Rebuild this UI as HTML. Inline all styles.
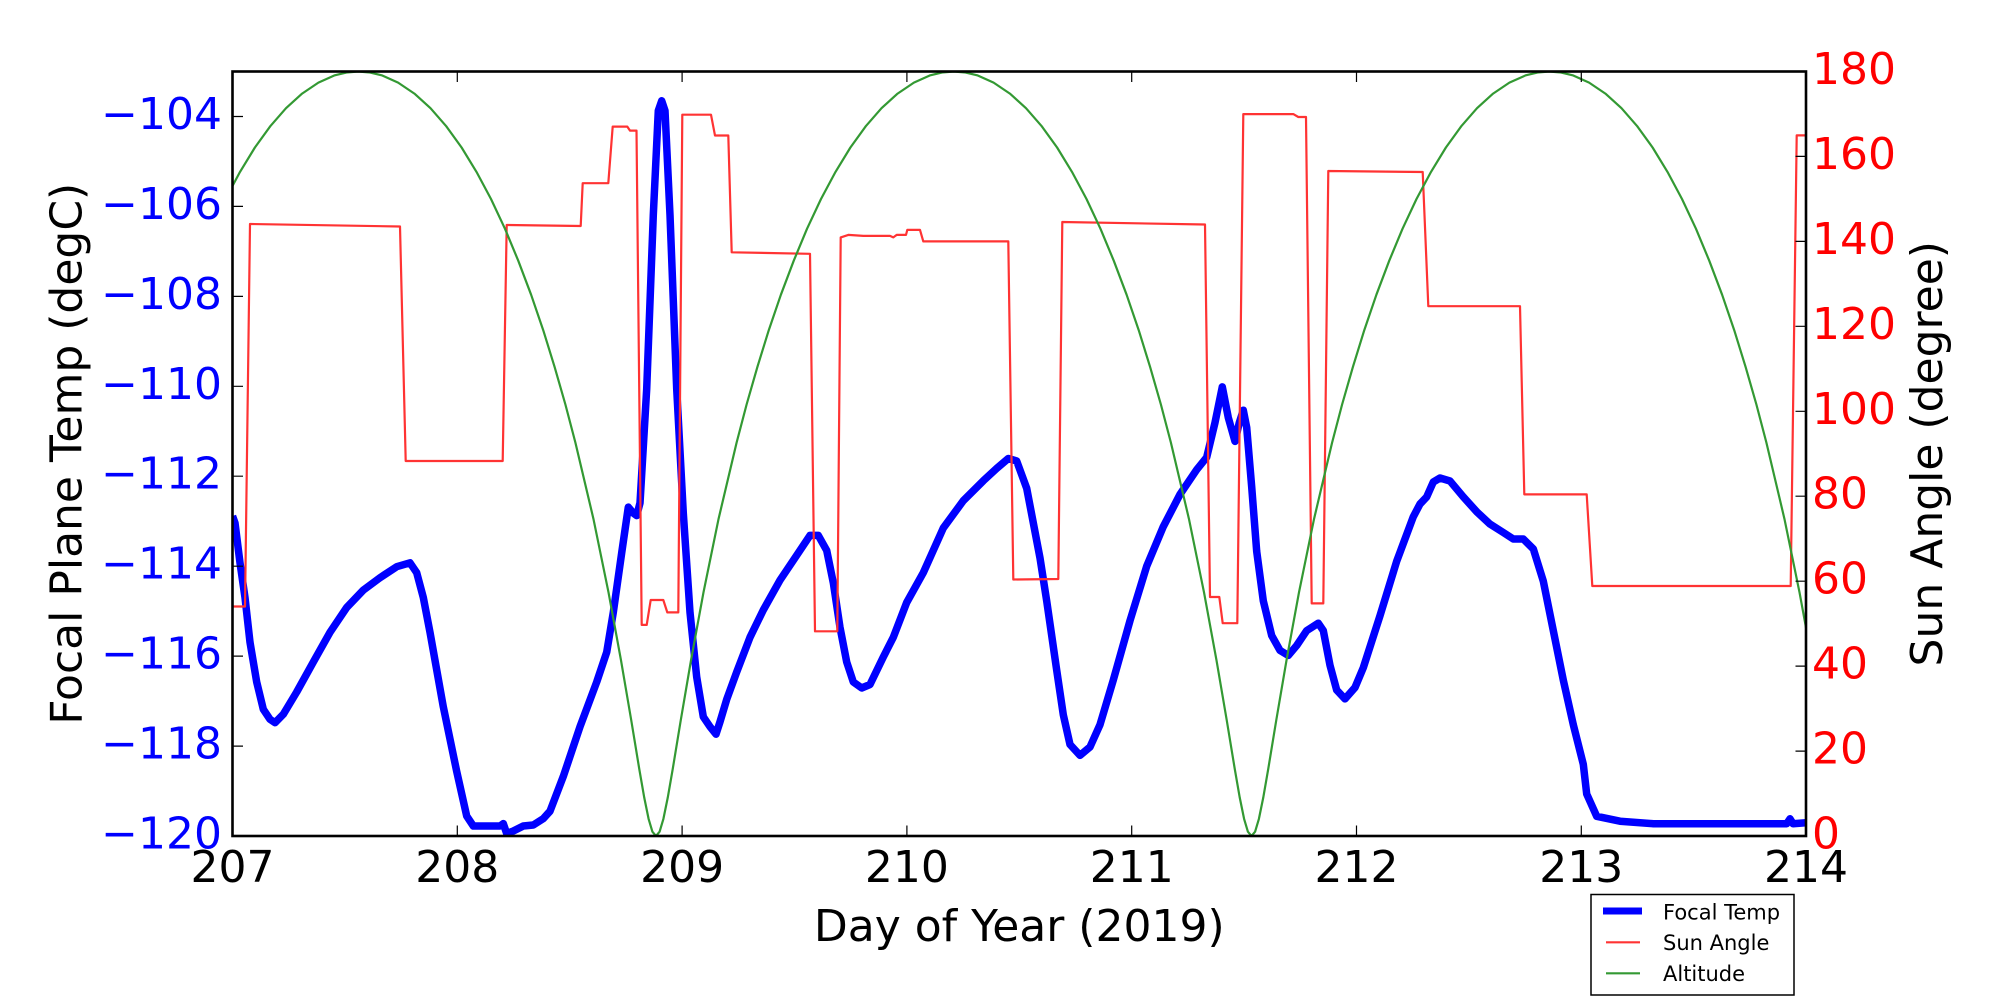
<!DOCTYPE html>
<html><head><meta charset="utf-8"><style>html,body{margin:0;padding:0;background:#fff;}svg{display:block}</style></head>
<body>
<svg width="2000" height="1000" viewBox="0 0 2000 1000" xmlns="http://www.w3.org/2000/svg" font-family="'DejaVu Sans','Liberation Sans',sans-serif">
<rect x="0" y="0" width="2000" height="1000" fill="#fff"/>
<defs><clipPath id="c"><rect x="232.5" y="71.5" width="1573.5" height="764.5"/></clipPath></defs>

<g clip-path="url(#c)" fill="none" stroke-linejoin="round">
<polyline stroke="#0000ff" stroke-width="7.5" points="232.5,516 235,523 240,562.8 245,597.5 250,642.3 256.7,682 263.3,709.3 270,719.3 275,722.7 283.3,714.3 296.7,692 313.3,662.1 330,632.3 346.7,607.5 363.3,590.1 380,577.7 396.7,566.7 410,562.8 416.7,572.7 423.3,597.5 430,632.3 443.3,706.8 456.7,771.4 466.7,816.1 473.3,826 500,826 503.3,823.6 506.7,833.5 513.3,831 523.3,826 533.3,825 543.3,818.6 550,811.2 563.3,776.4 580,726.7 596.7,682 606.7,652.2 613.3,612.4 621.7,552.8 628.3,507.1 633.3,513.1 636.7,515.6 640,503 646.7,388.9 653.3,215 658.3,110.7 661.7,100.8 665,110.7 670,215 676.7,388.9 683.3,513.1 690,612.4 696.7,677 703.3,716.8 710,726.7 716,734.2 720,721.8 726.7,699.4 736.7,672 750,637.3 763.3,610 780,580.2 796.7,555.3 810,535.4 818.3,535.4 826.7,550.4 833.3,582.7 840,627.3 846.7,662 853.3,682 861.7,688 870,684.5 883.3,657 893.3,637.3 906.7,602.5 923.3,572.7 943.3,528 963.3,500.7 983.3,480.8 996.7,468.4 1008.3,458.5 1016.7,461 1026.7,488.3 1040,558 1046.7,600.9 1056.7,670.2 1063.3,714.8 1070,744.5 1080,755.4 1090,747 1100,724.7 1113.3,680.1 1130,620.7 1146.7,566.2 1163.3,526.6 1180,494.4 1196.7,469.7 1206.7,457.3 1215,422.6 1222.3,386.9 1228.3,417.6 1235,441.4 1239.3,422.6 1243.3,410.2 1246.7,427.5 1251.7,487 1256.7,551.4 1263.3,600.9 1271.7,635.6 1280,650.4 1288.3,655.4 1296.7,645.5 1306.7,630.6 1318.3,623.2 1323.3,630.6 1330,665.3 1336.7,690.1 1345,698.9 1355,687.5 1363.3,667.7 1380,615.7 1396.7,561.2 1413.3,516.7 1420,504 1426.7,496.9 1433.3,482 1440,478 1450,481 1463.3,496.9 1476.7,511.7 1490,524.1 1503.3,532.5 1513.3,539 1523.3,539 1533.3,548.9 1543.3,581.1 1553.3,630.6 1563.3,680.1 1573.3,724.7 1583.3,764.3 1586.7,794 1596.7,816.3 1620,821.2 1653.3,823.7 1786.7,823.7 1790,818.8 1793,823.7 1806,822.7"/>

<path stroke="#ff3333" stroke-width="2.2" d="M232.5,606.5 L245,606.5 L250,224 L400,226.5 L405.7,461 L502.7,461 L506.7,225 L580.7,226 L582.7,183.2 L608.3,183.2 L612.7,126.6 L627.3,126.6 L630,130.6 L636.5,130.6 L641.7,624.9 L646.7,624.9 L650.7,600 L663.3,600 L667.3,612.4 L678.3,612.4 L682.3,114.7 L711,114.7 L715,135.5 L728.3,135.5 L731.7,252.3 L810,253.8 L815,631.3 L837.3,631.3 L840.7,237.4 L848.3,234.9 L863.3,235.9 L890,235.9 L893.3,237.4 L896.7,234.9 L906,234.9 L907.3,229.9 L920,229.9 L923.3,241.4 L1008.3,241.4 L1013.3,579.5 L1058.3,579 L1062.3,222 L1205,224.5 L1210,597 L1219.3,597 L1222.7,623.2 L1237.3,623.2 L1243.3,114.1 L1293.3,114.1 L1298.3,117 L1306,117 L1311.7,603.4 L1323.3,603.4 L1328.3,171 L1422.7,172 L1428.3,306.2 L1520,306.2 L1524.3,494.4 L1586.7,494.4 L1592.3,586 L1790.7,586 L1796.7,135.4 L1806,135.4"/>

<polyline stroke="#339933" stroke-width="2.2" points="198.2,260.8 211.5,229 225.5,199 240,171.9 254.9,147.5 270.3,126.2 286,108.2 302.1,93.6 318.4,82.6 334.8,75.3 346.4,72.5 358.25,71.5 370.1,72.5 381.7,75.3 398.1,82.6 414.4,93.6 430.5,108.2 446.2,126.2 461.6,147.5 476.5,171.9 491,199 505,228.8 518.3,260.8 531.1,294.7 543.2,330.1 554.6,366.9 565.4,404.5 575.4,442.6 593.4,518.7 608.5,592.3 621,660.3 631.2,720 639.3,769.2 644.3,797.9 648.6,818.9 652.4,831.7 656,836 659.6,831.7 663.4,818.9 667.7,797.9 672.7,769.2 680.8,720 691,660.3 703.5,592.3 718.6,518.7 736.6,442.6 746.6,404.5 757.4,366.9 768.8,330.1 780.9,294.7 793.7,260.8 807,228.8 821,199 835.5,171.9 850.4,147.5 865.8,126.2 881.5,108.2 897.6,93.6 913.9,82.6 930.3,75.3 941.9,72.5 953.75,71.5 965.6,72.5 977.2,75.3 993.6,82.6 1009.9,93.6 1026,108.2 1041.7,126.2 1057.1,147.5 1072,171.9 1086.5,199 1100.5,228.8 1113.8,260.8 1126.6,294.7 1138.7,330.1 1150.1,366.9 1160.9,404.5 1170.9,442.6 1188.9,518.7 1204,592.3 1216.5,660.3 1226.7,720 1234.8,769.2 1239.8,797.9 1244.1,818.9 1247.9,831.7 1251.5,836 1255.1,831.7 1258.9,818.9 1263.2,797.9 1268.2,769.2 1276.3,720 1286.5,660.3 1299,592.3 1314.1,518.7 1332.1,442.6 1342.1,404.5 1352.9,366.9 1364.3,330.1 1376.4,294.7 1389.2,260.8 1402.5,228.8 1416.5,199 1431,171.9 1445.9,147.5 1461.3,126.2 1477,108.2 1493.1,93.6 1509.4,82.6 1525.8,75.3 1537.4,72.5 1549.25,71.5 1561.1,72.5 1572.7,75.3 1589.1,82.6 1605.4,93.6 1621.5,108.2 1637.2,126.2 1652.6,147.5 1667.5,171.9 1682,199 1696,228.8 1709.3,260.8 1722.1,294.7 1734.2,330.1 1745.6,366.9 1756.4,404.5 1766.4,442.6 1784.4,518.7 1799.5,592.3 1812,660.3"/>
</g>

<!-- ticks -->
<g stroke="#000" stroke-width="1.2" fill="none">
<!-- left ticks -->
<path d="M232.5,116.5h10.5 M232.5,206.4h10.5 M232.5,296.4h10.5 M232.5,386.3h10.5 M232.5,476.2h10.5 M232.5,566.2h10.5 M232.5,656.1h10.5 M232.5,746.1h10.5"/>
<!-- right ticks -->
<path d="M1806,156.4h-10.5 M1806,241.4h-10.5 M1806,326.3h-10.5 M1806,411.3h-10.5 M1806,496.2h-10.5 M1806,581.2h-10.5 M1806,666.1h-10.5 M1806,751.1h-10.5"/>
<!-- bottom ticks -->
<path d="M457.3,836v-10.5 M682.1,836v-10.5 M906.9,836v-10.5 M1131.7,836v-10.5 M1356.5,836v-10.5 M1581.3,836v-10.5"/>
<!-- top ticks -->
<path d="M457.3,71.5v10.5 M682.1,71.5v10.5 M906.9,71.5v10.5 M1131.7,71.5v10.5 M1356.5,71.5v10.5 M1581.3,71.5v10.5"/>
</g>

<!-- frame -->
<rect x="232.5" y="71.5" width="1573.5" height="764.5" fill="none" stroke="#000" stroke-width="2.6"/>

<!-- left tick labels -->
<g font-size="44" fill="#0000ff" text-anchor="end">
<text x="222" y="129">−104</text>
<text x="222" y="218.9">−106</text>
<text x="222" y="308.9">−108</text>
<text x="222" y="398.8">−110</text>
<text x="222" y="488.7">−112</text>
<text x="222" y="578.7">−114</text>
<text x="222" y="668.6">−116</text>
<text x="222" y="758.6">−118</text>
<text x="222" y="848.5">−120</text>
</g>

<!-- right tick labels -->
<g font-size="44" fill="#ff0000" text-anchor="start">
<text x="1812" y="84">180</text>
<text x="1812" y="168.9">160</text>
<text x="1812" y="253.9">140</text>
<text x="1812" y="338.8">120</text>
<text x="1812" y="423.8">100</text>
<text x="1812" y="508.7">80</text>
<text x="1812" y="593.7">60</text>
<text x="1812" y="678.6">40</text>
<text x="1812" y="763.6">20</text>
<text x="1812" y="848.5">0</text>
</g>

<!-- bottom tick labels -->
<g font-size="44" fill="#000" text-anchor="middle">
<text x="232.5" y="882">207</text>
<text x="457.3" y="882">208</text>
<text x="682.1" y="882">209</text>
<text x="906.9" y="882">210</text>
<text x="1131.7" y="882">211</text>
<text x="1356.5" y="882">212</text>
<text x="1581.3" y="882">213</text>
<text x="1806" y="882">214</text>
</g>

<!-- axis labels -->
<g font-size="44" fill="#000" text-anchor="middle">
<text x="1019.25" y="941">Day of Year (2019)</text>
<text transform="translate(81.7,453.75) rotate(-90)">Focal Plane Temp (degC)</text>
<text transform="translate(1942,453.75) rotate(-90)">Sun Angle (degree)</text>
</g>

<!-- legend -->
<rect x="1591" y="894.5" width="203" height="100.5" fill="#fff" stroke="#000" stroke-width="1.5"/>
<line x1="1603" y1="911" x2="1642" y2="911" stroke="#0000ff" stroke-width="7"/>
<line x1="1606" y1="942.3" x2="1640" y2="942.3" stroke="#ff3333" stroke-width="2.2"/>
<line x1="1606" y1="973.3" x2="1640" y2="973.3" stroke="#339933" stroke-width="2.2"/>
<g font-size="21" fill="#000">
<text x="1663" y="919.3">Focal Temp</text>
<text x="1663" y="950">Sun Angle</text>
<text x="1663" y="981">Altitude</text>
</g>
</svg>
</body></html>
